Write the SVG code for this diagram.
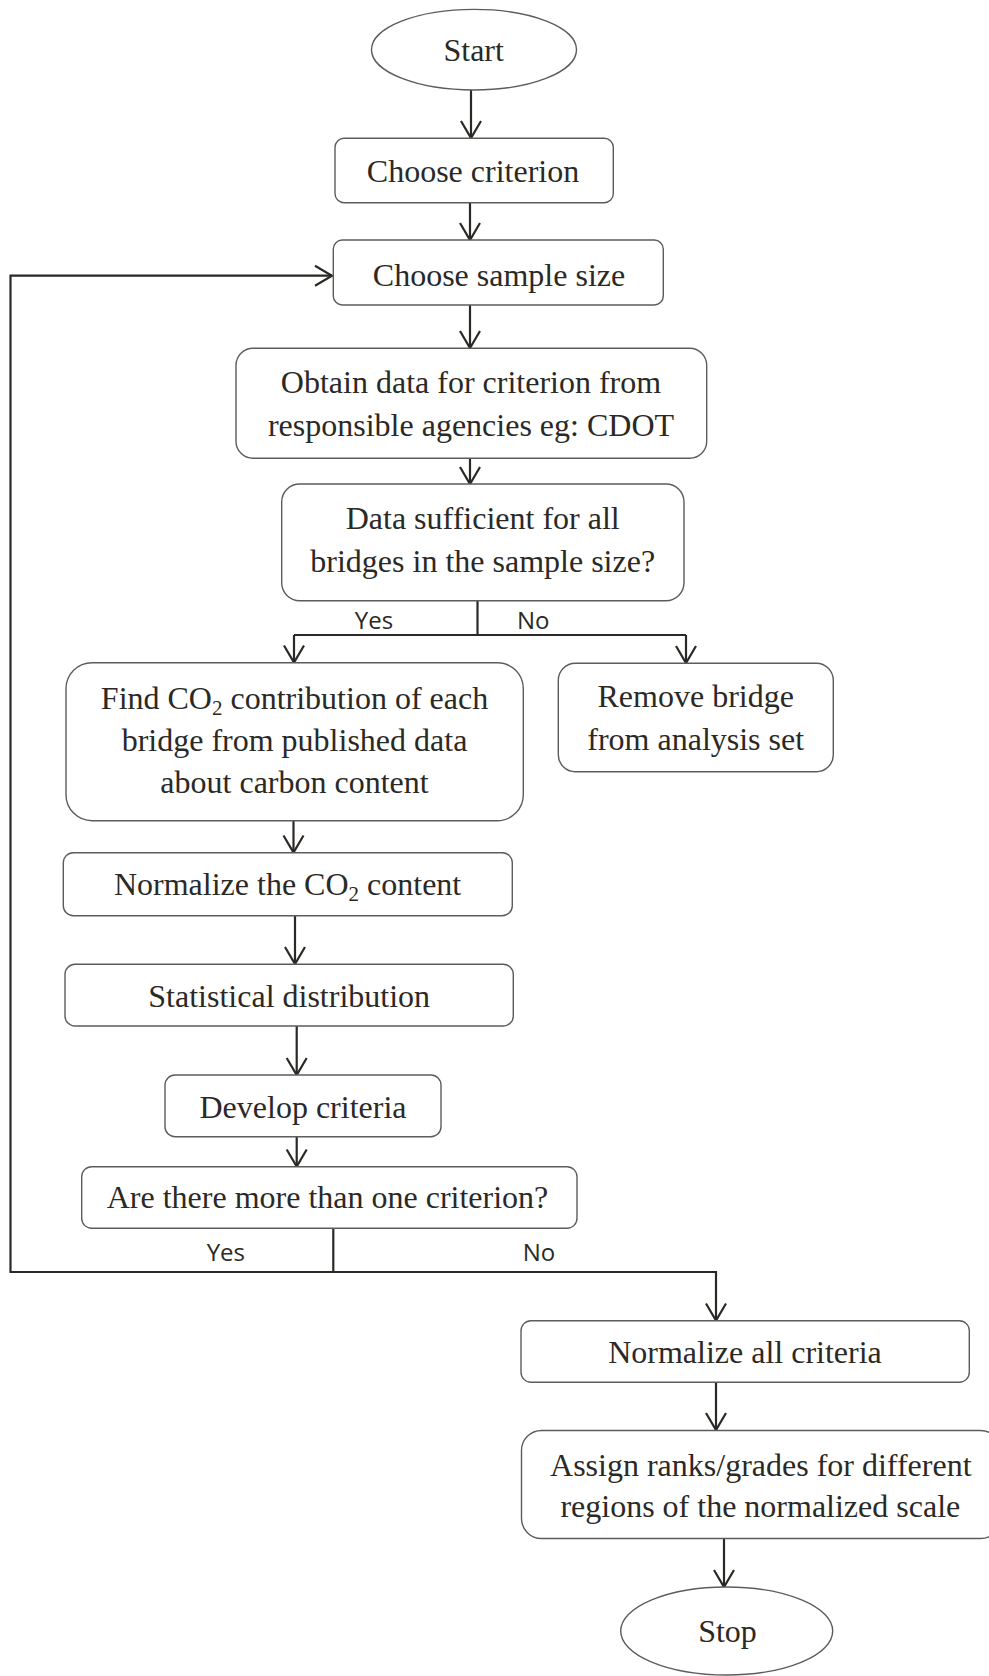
<svg xmlns="http://www.w3.org/2000/svg" width="989" height="1676" viewBox="0 0 989 1676">
<style>
.box{fill:#fff;stroke:#5c5c5c;stroke-width:1.4}
.t{font-family:"Liberation Serif","Times New Roman",serif;font-size:32px;fill:#2b2925;text-anchor:middle}
.sub{font-size:21px}
.lbl{font-family:"Open Sans","Liberation Sans",sans-serif;font-size:24px;fill:#2b2925;text-anchor:middle}
.c{fill:none;stroke:#2b2925;stroke-width:2.2}
</style>
<defs>
<marker id="arr" viewBox="-19 -12 21 24" markerWidth="21" markerHeight="24" refX="0" refY="0" orient="auto" markerUnits="userSpaceOnUse" overflow="visible">
<path d="M-17,-10 L0,0 L-17,10" fill="none" stroke="#2b2925" stroke-width="2.2"/>
</marker>
</defs>
<rect width="989" height="1676" fill="#fff"/>

<g id="connectors">
<path class="c" d="M471,90 V138" marker-end="url(#arr)"/>
<path class="c" d="M470,203 V240" marker-end="url(#arr)"/>
<path class="c" d="M470,305 V348" marker-end="url(#arr)"/>
<path class="c" d="M470,458 V484" marker-end="url(#arr)"/>
<path class="c" d="M477.5,601 V635"/>
<path class="c" d="M294,635 H686"/>
<path class="c" d="M294,635 V662.5" marker-end="url(#arr)"/>
<path class="c" d="M686,635 V663" marker-end="url(#arr)"/>
<path class="c" d="M293.5,821 V852.5" marker-end="url(#arr)"/>
<path class="c" d="M295,916 V964" marker-end="url(#arr)"/>
<path class="c" d="M296.7,1026 V1075" marker-end="url(#arr)"/>
<path class="c" d="M296.7,1137 V1166.5" marker-end="url(#arr)"/>
<path class="c" d="M333.3,1229 V1272"/>
<path class="c" d="M716,1272 H10.5 V275.7 H332" marker-end="url(#arr)"/>
<path class="c" d="M716,1271 V1320.5" marker-end="url(#arr)"/>
<path class="c" d="M716,1382 V1430" marker-end="url(#arr)"/>
<path class="c" d="M724,1538 V1587" marker-end="url(#arr)"/>
<text class="lbl" x="374" y="629">Yes</text>
<text class="lbl" x="533.3" y="629">No</text>
<text class="lbl" x="225.8" y="1261">Yes</text>
<text class="lbl" x="539" y="1261">No</text>
</g>

<g id="start">
<ellipse class="box" cx="474" cy="49.7" rx="102.5" ry="40.3"/>
<text class="t" x="473.7" y="60.7">Start</text>
</g>

<g id="choose-criterion">
<rect class="box" x="335" y="138.3" width="278.3" height="64.4" rx="9"/>
<text class="t" x="473" y="181.7">Choose criterion</text>
</g>

<g id="choose-sample-size">
<rect class="box" x="333.3" y="240" width="330" height="65" rx="9"/>
<text class="t" x="499" y="285.7">Choose sample size</text>
</g>

<g id="obtain-data">
<rect class="box" x="236" y="348.3" width="470.7" height="110" rx="17"/>
<text class="t" x="471" y="393.3">Obtain data for criterion from</text>
<text class="t" x="471" y="436">responsible agencies eg: CDOT</text>
</g>

<g id="data-sufficient">
<rect class="box" x="281.7" y="484" width="402.3" height="116.7" rx="18"/>
<text class="t" x="482.7" y="529.3">Data sufficient for all</text>
<text class="t" x="482.7" y="571.7">bridges in the sample size?</text>
</g>

<g id="find-co2">
<rect class="box" x="66" y="662.7" width="457.3" height="158" rx="26"/>
<text class="t" x="294.5" y="709.3">Find CO<tspan class="sub" dy="6">2</tspan><tspan dy="-6"> contribution of each</tspan></text>
<text class="t" x="294.5" y="751">bridge from published data</text>
<text class="t" x="294.5" y="793.3">about carbon content</text>
</g>

<g id="remove-bridge">
<rect class="box" x="558.3" y="663.3" width="275" height="108.4" rx="17"/>
<text class="t" x="695.7" y="706.7">Remove bridge</text>
<text class="t" x="695.7" y="750">from analysis set</text>
</g>

<g id="normalize-co2">
<rect class="box" x="63.3" y="852.7" width="449" height="63" rx="10"/>
<text class="t" x="287.6" y="895">Normalize the CO<tspan class="sub" dy="6">2</tspan><tspan dy="-6"> content</tspan></text>
</g>

<g id="statistical-distribution">
<rect class="box" x="65" y="964.3" width="448.3" height="61.7" rx="10"/>
<text class="t" x="289.2" y="1006.7">Statistical distribution</text>
</g>

<g id="develop-criteria">
<rect class="box" x="165" y="1075" width="276" height="61.7" rx="10"/>
<text class="t" x="303" y="1117.7">Develop criteria</text>
</g>

<g id="more-than-one">
<rect class="box" x="81.7" y="1166.7" width="495.3" height="61.6" rx="10"/>
<text class="t" x="327.5" y="1208.3">Are there more than one criterion?</text>
</g>

<g id="normalize-all">
<rect class="box" x="521" y="1320.7" width="448.3" height="61.6" rx="10"/>
<text class="t" x="745" y="1362.7">Normalize all criteria</text>
</g>

<g id="assign-ranks">
<rect class="box" x="521.5" y="1430.5" width="479" height="108" rx="20"/>
<text class="t" x="760.8" y="1476">Assign ranks/grades for different</text>
<text class="t" x="760.3" y="1516.7">regions of the normalized scale</text>
</g>

<g id="stop">
<ellipse class="box" cx="726.7" cy="1631" rx="106" ry="44"/>
<text class="t" x="727.5" y="1641.7">Stop</text>
</g>
</svg>
